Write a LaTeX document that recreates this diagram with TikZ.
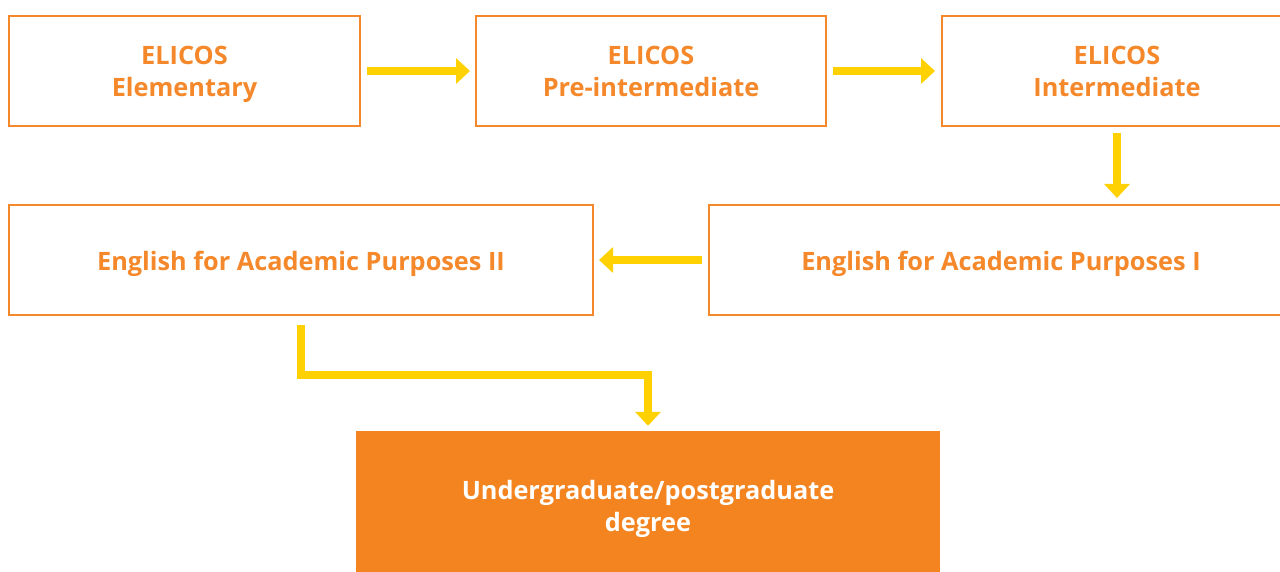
\documentclass[tikz,border=0pt]{standalone}
\usepackage{fontspec}
\setmainfont{Open Sans}
\usetikzlibrary{arrows.meta}
\definecolor{borange}{HTML}{F5882A}
\definecolor{forange}{HTML}{F48420}
\definecolor{ayellow}{HTML}{FFD100}
\newcommand\boxstrut{\rule[-8pt]{0pt}{36pt}}
\begin{document}
\begin{tikzpicture}[x=1pt,y=1pt,
  txt/.style={font=\fontsize{25.3}{32}\selectfont\bfseries, align=center, inner sep=0pt,
    execute at begin node=\boxstrut, execute at end node=\boxstrut},
  stepbox/.style={txt, draw=borange, line width=2pt, fill=white, text=borange},
  finalbox/.style={txt, fill=forange, text=white},
  arr/.style={draw=ayellow, line width=8pt, line join=miter,
    -{Triangle[length=14pt,width=25pt]}}]
\useasboundingbox (0,0) rectangle (1280,-572);
\clip (0,0) rectangle (1280,-572);
\fill[white] (0,0) rectangle (1280,-572);
\node[stepbox, minimum width=351pt, minimum height=110pt] (b1) at (184.5,-71) {\boxstrut ELICOS\\Elementary};
\node[stepbox, minimum width=350pt, minimum height=110pt] (b2) at (651,-71) {\boxstrut ELICOS\\Pre-intermediate};
\node[stepbox, minimum width=350pt, minimum height=110pt] (b3) at (1117,-71) {\boxstrut ELICOS\\Intermediate};
\node[stepbox, minimum width=584pt, minimum height=110pt] (b4) at (301,-260) {English for Academic Purposes II};
\node[stepbox, minimum width=584pt, minimum height=110pt] (b5) at (1001,-260) {English for Academic Purposes I};
\node[finalbox, minimum width=584pt, minimum height=149pt] (b6) at (648,-505.5) {\boxstrut Undergraduate/postgraduate\\degree};
\draw[arr, shorten <=6pt, shorten >=5pt] (b1.east) -- (b2.west);
\draw[arr, shorten <=6pt, shorten >=6pt] (b2.east) -- (b3.west);
\draw[arr, shorten <=6pt, shorten >=6pt] (b3.south) -- (b3.south |- b5.north);
\draw[arr, shorten <=6pt, shorten >=5pt] (b5.west) -- (b4.east);
\draw[arr, shorten <=9pt, shorten >=5pt] (b4.south) -- ++(0,-59) -| (b6.north);
\end{tikzpicture}
\end{document}
